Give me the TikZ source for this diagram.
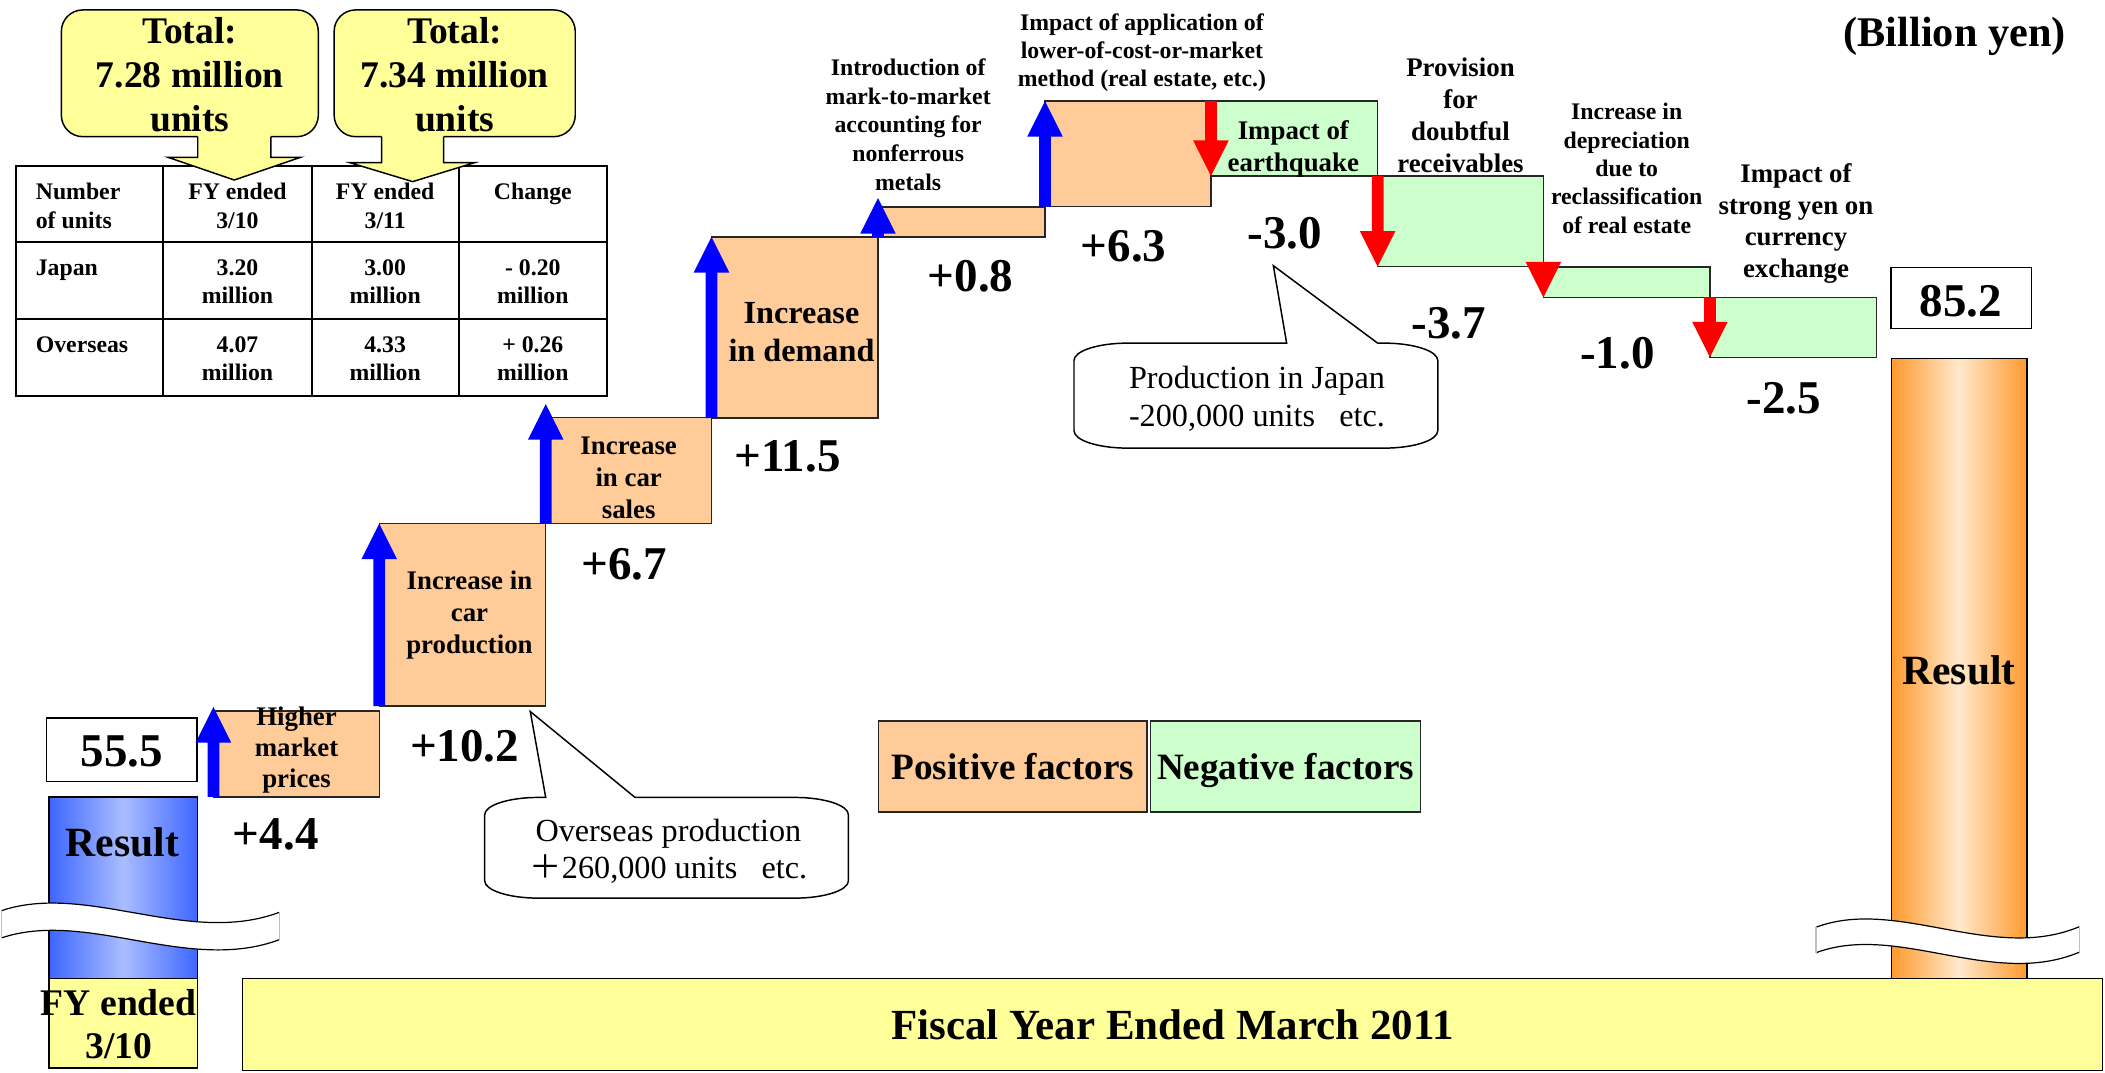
\documentclass[tikz,border=0pt]{standalone}
\usepackage{fontspec}
\setmainfont{Liberation Serif}
\newfontfamily\cjkfont{Noto Sans CJK JP}
\definecolor{posc}{HTML}{FFCC99}
\definecolor{negc}{HTML}{CCFFCC}
\definecolor{yelc}{HTML}{FFFF99}
\definecolor{bluea}{HTML}{0000FF}
\definecolor{reda}{HTML}{FF0000}
\definecolor{bbar}{HTML}{3D66FF}
\definecolor{bbarl}{HTML}{AABDFF}
\definecolor{obar}{HTML}{FF9A2E}
\definecolor{obarl}{HTML}{FFE9CC}
\newcommand\setfs[2]{\fontsize{#1}{#2}\selectfont}
\newcommand\chartarrow[4]{%
  \pgfmathsetmacro\arrhb{#4+26.5*sign(#3-#4)}%
  \fill[#1] ({#2-4.35},#3) -- ({#2-4.35},\arrhb) -- ({#2-13.25},\arrhb) -- (#2,#4) -- ({#2+13.25},\arrhb) -- ({#2+4.35},\arrhb) -- ({#2+4.35},#3) -- cycle;}
\begin{document}
\begin{tikzpicture}[x=1pt,y=-1pt,
  stepbox/.style={draw=black!85, line width=1.1pt},
  ml/.style={inner sep=0pt, align=center, anchor=north},
  sl/.style={inner sep=0pt, anchor=base},
  num/.style={sl, font=\bfseries\setfs{35}{40}},
  small/.style={font=\bfseries\setfs{17.7}{21.2}},
  mid/.style={font=\bfseries\setfs{20}{23.7}},
  tbl/.style={line width=1.5pt},
  outl/.style={line width=1.1pt},
  note/.style={ml, font=\setfs{24}{28}},
]
\fill[white] (0,0) rectangle (1568,799);
\useasboundingbox (0,0) rectangle (1568,799);

% ---------- table ----------
\draw[tbl] (11.8,123.4) rectangle (452.1,294.7);
\draw[tbl] (11.8,180.5) -- (452.1,180.5) (11.8,237.6) -- (452.1,237.6)
  (121.6,123.4) -- (121.6,294.7) (232.1,123.4) -- (232.1,294.7) (341.7,123.4) -- (341.7,294.7);
\node[ml, small, anchor=north west, align=left] (tnum) at (26.5,136.3) {\rule{0pt}{0.69em}Number\\of units};
\node[ml, small] (th1) at (176.9,136.3) {\rule{0pt}{0.69em}FY ended\\3/10};
\node[ml, small] (th2) at (286.9,136.3) {\rule{0pt}{0.69em}FY ended\\3/11};
\node[ml, small] (th3) at (396.9,136.3) {\rule{0pt}{0.69em}Change};
\node[ml, small, anchor=north west, align=left] (tjp) at (26.5,192.6) {\rule{0pt}{0.69em}Japan};
\node[ml, small] (tjp1) at (176.9,192.6) {\rule{0pt}{0.69em}3.20\\million};
\node[ml, small] (tjp2) at (286.9,192.6) {\rule{0pt}{0.69em}3.00\\million};
\node[ml, small] (tjp3) at (396.9,192.6) {\rule{0pt}{0.69em}- 0.20\\million};
\node[ml, small, anchor=north west, align=left] (tov) at (26.5,249.8) {\rule{0pt}{0.69em}Overseas};
\node[ml, small] (tov1) at (176.9,249.8) {\rule{0pt}{0.69em}4.07\\million};
\node[ml, small] (tov2) at (286.9,249.8) {\rule{0pt}{0.69em}4.33\\million};
\node[ml, small] (tov3) at (396.9,249.8) {\rule{0pt}{0.69em}+ 0.26\\million};

% ---------- total callouts ----------
\draw[outl, fill=yelc, rounded corners=16pt] (45.7,7.4) rectangle (237.1,101.8);
\fill[yelc] (147.3,100.3) -- (147.3,117.2) -- (125.2,117.2) -- (174.5,134.1) -- (223.8,117.2) -- (201.8,117.2) -- (201.8,100.3) -- cycle;
\draw[outl] (147.3,101.8) -- (147.3,117.2) -- (125.2,117.2) -- (174.5,134.1) -- (223.8,117.2) -- (201.8,117.2) -- (201.8,101.8);
\draw[outl, fill=yelc, rounded corners=16pt] (248.9,7.4) rectangle (428.5,101.8);
\fill[yelc] (284.2,100.3) -- (284.2,121.2) -- (260.7,121.2) -- (307.4,135.3) -- (353.4,121.2) -- (330.5,121.2) -- (330.5,100.3) -- cycle;
\draw[outl] (284.2,101.8) -- (284.2,121.2) -- (260.7,121.2) -- (307.4,135.3) -- (353.4,121.2) -- (330.5,121.2) -- (330.5,101.8);
\node[ml, font=\bfseries\setfs{28}{32.5}] (tot1) at (141.4,13) {\rule{0pt}{0.69em}Total:\\7.28 million\\units};
\node[ml, font=\bfseries\setfs{28}{32.5}] (tot2) at (338.7,13) {\rule{0pt}{0.69em}Total:\\7.34 million\\units};

% ---------- left result ----------
\shade[left color=bbar, right color=bbar, middle color=bbarl] (36.5,593.5) rectangle (147.2,728.7);
\draw[outl] (36.5,593.5) rectangle (147.2,728.7);
\draw[outl, fill=yelc] (36.5,728.7) rectangle (147.2,795.6);
\draw[outl, fill=white] (34.8,535) rectangle (146.7,582);
\node[num] (v555) at (90.6,571) {55.5};
\node[sl, font=\bfseries\setfs{31}{36}] (resl) at (91.3,638.1) {Result};
\node[ml, font=\bfseries\setfs{28}{32.3}] (fy10) at (88.4,736.7) {\rule{0pt}{0.69em}FY ended\\3/10};

% ---------- steps ----------
\draw[stepbox, fill=posc] (159,529.6) rectangle (282.5,593.5);
\draw[stepbox, fill=posc] (282.5,390) rectangle (406.5,526);
\draw[stepbox, fill=posc] (406.5,311) rectangle (530,390);
\draw[stepbox, fill=posc] (530,176.5) rectangle (654,311.4);
\draw[stepbox, fill=posc] (654,154.2) rectangle (778.4,176.5);
\draw[stepbox, fill=posc] (778.4,75.3) rectangle (902,154);
\draw[stepbox, fill=negc] (902,75.3) rectangle (1026.2,131.1);
\draw[stepbox, fill=negc] (1026.2,131.1) rectangle (1149.6,198.6);
\draw[stepbox, fill=negc] (1149.6,199) rectangle (1273.7,221.5);
\draw[stepbox, fill=negc] (1273.7,221.5) rectangle (1397.9,266.2);

\chartarrow{bluea}{159}{593.5}{526.6}
\chartarrow{bluea}{282.5}{526}{390}
\chartarrow{bluea}{406.5}{390}{301}
\chartarrow{bluea}{530}{311.4}{176.5}
\chartarrow{bluea}{654}{176.5}{147.6}
\chartarrow{bluea}{778.4}{154}{75.3}
\chartarrow{reda}{902}{75.3}{131.1}
\chartarrow{reda}{1026.2}{131.1}{198.6}
\chartarrow{reda}{1149.6}{195}{221.5}
\chartarrow{reda}{1273.7}{221.5}{266.2}

% step labels
\node[ml, font=\bfseries\setfs{20}{23}] (lhigh) at (220.9,526.2) {\rule{0pt}{0.69em}Higher\\market\\prices};
\node[ml, mid] (lprod) at (349.7,425.2) {\rule{0pt}{0.69em}Increase in\\car\\production};
\node[ml, mid] (lsales) at (468.3,324.7) {\rule{0pt}{0.69em}Increase\\in car\\sales};
\node[ml, font=\bfseries\setfs{24}{28.6}] (ldem) at (597,224.2) {\rule{0pt}{0.69em}Increase\\in demand};
\node[ml, font=\bfseries\setfs{17.7}{21.3}] (lnonf) at (676.5,43.7) {\rule{0pt}{0.69em}Introduction of\\mark-to-market\\accounting for\\nonferrous\\metals};
\node[ml, font=\bfseries\setfs{17.7}{21}] (lreal) at (850.6,10.1) {\rule{0pt}{0.69em}Impact of application of\\lower-of-cost-or-market\\method (real estate, etc.)};
\node[ml, mid] (lquake) at (963.4,90) {\rule{0pt}{0.69em}Impact of\\earthquake};
\node[ml, font=\bfseries\setfs{20}{23.8}] (lprov) at (1087.9,42.8) {\rule{0pt}{0.69em}Provision\\for\\doubtful\\receivables};
\node[ml, font=\bfseries\setfs{17.7}{21.1}] (ldep) at (1211.7,76.7) {\rule{0pt}{0.69em}Increase in\\depreciation\\due to\\reclassification\\of real estate};
\node[ml, mid] (lyen) at (1337.8,121.5) {\rule{0pt}{0.69em}Impact of\\strong yen on\\currency\\exchange};

% values
\node[num] (v44) at (205.4,633.1) {+4.4};
\node[num] (v102) at (346,567.4) {+10.2};
\node[num] (v67) at (465,432) {+6.7};
\node[num] (v115) at (586.6,351.3) {+11.5};
\node[num] (v08) at (723,217.3) {+0.8};
\node[num] (v63) at (837,194.9) {+6.3};
\node[num] (v30) at (957.2,185) {-3.0};
\node[num] (v37) at (1079.3,252) {-3.7};
\node[num] (v10) at (1204.8,274.4) {-1.0};
\node[num] (v25) at (1328.9,307.9) {-2.5};

% ---------- callouts ----------
\draw[outl, fill=white] (406.5,594) -- (395,530) -- (473,594) -- (592,594)
  .. controls (614.1,594) and (632,599.8) .. (632,607) -- (632,656)
  .. controls (632,663.2) and (614.1,669) .. (592,669) -- (401,669)
  .. controls (378.9,669) and (361,663.2) .. (361,656) -- (361,607)
  .. controls (361,599.8) and (378.9,594) .. (401,594) -- cycle;
\node[note] (c1txt) at (497.9,609.6) {\rule{0pt}{0.69em}Overseas production\\{\cjkfont ＋}260,000 units\ \ \ etc.};
\draw[outl, fill=white] (958.4,255.6) -- (948.5,197.9) -- (1026.2,255.6) -- (1031,255.6)
  .. controls (1053.1,255.6) and (1071,261.4) .. (1071,268.6) -- (1071,320.8)
  .. controls (1071,328) and (1053.1,333.8) .. (1031,333.8) -- (840,333.8)
  .. controls (817.9,333.8) and (800,328) .. (800,320.8) -- (800,268.6)
  .. controls (800,261.4) and (817.9,255.6) .. (840,255.6) -- cycle;
\node[note] (c2txt) at (936.3,272.7) {\rule{0pt}{0.69em}Production in Japan\\-200,000 units\ \ \ etc.};

% ---------- legend ----------
\draw[stepbox, fill=posc] (654.5,537) rectangle (854.4,605);
\draw[stepbox, fill=negc] (856.9,537) rectangle (1058.3,605);
\node[sl, font=\bfseries\setfs{27.7}{32}] (lpos) at (754.5,581) {Positive factors};
\node[sl, font=\bfseries\setfs{27.7}{32}] (lneg) at (957.6,581) {Negative factors};

% ---------- right result ----------
\shade[left color=obar, right color=obar, middle color=obarl] (1409,266.9) rectangle (1509.7,728.7);
\draw[outl] (1409,266.9) rectangle (1509.7,728.7);
\draw[outl, fill=white] (1408.6,199.4) rectangle (1513.3,244.6);
\node[num] (v852) at (1460.6,235.9) {85.2};
\node[sl, font=\bfseries\setfs{31}{36}] (resr) at (1459.2,510) {Result};
\node[sl, font=\bfseries\setfs{31.5}{36}] (unit) at (1456,34.8) {(Billion yen)};

% ---------- banner ----------
\draw[outl, fill=yelc] (180.8,728.7) rectangle (1566,797.5);
\node[sl, font=\bfseries\setfs{32}{36}] (fy11) at (873.4,774.5) {Fiscal Year Ended March 2011};

% ---------- wave breaks ----------
\fill[white] (1.2,678.3) .. controls (65,657) and (140,705) .. (208,679.6) -- (208,700)
  .. controls (140,725.3) and (65,677.3) .. (1.2,698.6) -- cycle;
\draw[line width=0.9pt] (1.2,678.3) .. controls (65,657) and (140,705) .. (208,679.6);
\draw[line width=0.9pt] (1.2,698.6) .. controls (65,677.3) and (140,725.3) .. (208,700);
\draw[gray!50, line width=0.9pt] (1.2,678.3) -- (1.2,698.6) (208,679.6) -- (208,700);
\fill[white] (1352.7,690.7) .. controls (1413.2,668) and (1484.3,717.4) .. (1548.8,690.3) -- (1548.8,709.3)
  .. controls (1484.3,736.4) and (1413.2,687) .. (1352.7,709.7) -- cycle;
\draw[line width=0.9pt] (1352.7,690.7) .. controls (1413.2,668) and (1484.3,717.4) .. (1548.8,690.3);
\draw[line width=0.9pt] (1352.7,709.7) .. controls (1413.2,687) and (1484.3,736.4) .. (1548.8,709.3);
\draw[gray!50, line width=0.9pt] (1352.7,690.7) -- (1352.7,709.7) (1548.8,690.3) -- (1548.8,709.3);
\end{tikzpicture}
\end{document}
